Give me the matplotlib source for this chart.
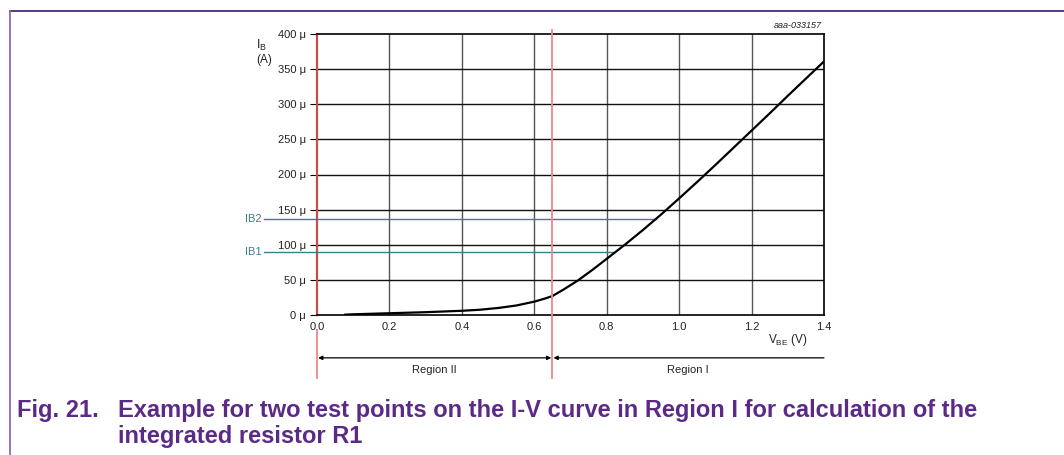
import numpy as np
import matplotlib
matplotlib.use("Agg")
import matplotlib.pyplot as plt
from matplotlib.lines import Line2D

# ---- data ----
vbe = [0.077, 0.10, 0.20, 0.30, 0.40, 0.45, 0.50, 0.55, 0.60, 0.63, 0.65,
       0.68, 0.72, 0.76, 0.80, 0.85, 0.90, 0.95, 1.00, 1.05, 1.10,
       1.15, 1.20, 1.25, 1.30, 1.35, 1.40]
ib_uA = [0.5, 1, 2.5, 4, 6, 7.5, 10, 13.5, 19, 23.5, 27,
         36, 49, 64, 80, 100, 121, 143, 166, 189.5, 213.5,
         238, 262.5, 287, 312, 336.5, 361]
x_ticks = [0.0, 0.2, 0.4, 0.6, 0.8, 1.0, 1.2, 1.4]
x_tick_labels = ["0.0", "0.2", "0.4", "0.6", "0.8", "1.0", "1.2", "1.4"]
y_ticks = [0, 50, 100, 150, 200, 250, 300, 350, 400]
y_tick_labels = [f"{v} μ" for v in y_ticks]
test_levels = [89, 137]
test_names = ["IB1", "IB2"]
region_boundary = 0.65
region_names = ["Region II", "Region I"]

plt.rcParams['font.family'] = ['Liberation Sans', 'DejaVu Sans']

W, H = 1064, 455
fig = plt.figure(figsize=(W / 100, H / 100), dpi=100)
ax = fig.add_axes([317 / W, 1 - 315 / H, (824 - 317) / W, (315 - 34) / H])
ax.set_xlim(0, 1.4)
ax.set_ylim(0, 400)

# grid
for v in x_ticks[1:-1]:
    ax.axvline(v, color='#555555', lw=1.0, zorder=1)
for v in y_ticks[1:-1]:
    ax.axhline(v, color='#111111', lw=1.0, zorder=1)

for s in ['top', 'right', 'bottom']:
    ax.spines[s].set_color('black')
    ax.spines[s].set_linewidth(1.2)
ax.spines['left'].set_color('#c0504d')
ax.spines['left'].set_linewidth(1.6)

ax.set_xticks(x_ticks)
ax.set_xticklabels(x_tick_labels)
ax.set_yticks(y_ticks)
ax.set_yticklabels(y_tick_labels)
ax.tick_params(axis='x', length=0, pad=5, labelsize=8, colors='#222222')
ax.tick_params(axis='y', length=5, width=0.8, pad=3, labelsize=8, colors='#222222')
ax.tick_params(axis='y', color='black')

# curve
ax.plot(vbe, ib_uA, color='black', lw=1.6, zorder=4, solid_capstyle='round',
        solid_joinstyle='round')

# test point lines
teal = '#3b7f8f'
for lvl, name in zip(test_levels, test_names):
    xend = np.interp(lvl, ib_uA, vbe)
    ax.plot([-0.145, xend], [lvl, lvl], color=teal, lw=1.0, clip_on=False, zorder=3)
    ax.text(-0.152, lvl, name, color=teal, fontsize=8, ha='right', va='center')

# region boundary lines
ax.plot([region_boundary, region_boundary], [405.5, -90], color='#f08880', lw=1.3,
        clip_on=False, zorder=5)
ax.plot([0, 0], [-21, -90], color='#f08880', lw=1.3, clip_on=False, zorder=5)

# region arrows
ya = -61
ax.annotate('', xy=(0.003, ya), xytext=(region_boundary - 0.003, ya),
            arrowprops=dict(arrowstyle='<|-|>', color='black', lw=0.9,
                            mutation_scale=6, shrinkA=0, shrinkB=0),
            annotation_clip=False)
ax.annotate('', xy=(region_boundary + 0.003, ya), xytext=(1.4, ya),
            arrowprops=dict(arrowstyle='-|>', color='black', lw=0.9,
                            mutation_scale=6, shrinkA=0, shrinkB=0),
            annotation_clip=False)
ax.text(region_boundary / 2, -78, region_names[0], fontsize=8, ha='center',
        va='center', color='#222222')
ax.text((region_boundary + 1.4) / 2, -78, region_names[1], fontsize=8, ha='center',
        va='center', color='#222222')

# axis labels
ax.text(1.30, -36, r'V$_{\mathregular{BE}}$ (V)', fontsize=8.5, ha='center',
        va='center', color='#222222')
ax.text(-0.152, 383, r'I$_{\mathregular{B}}$', fontsize=9, ha='center',
        va='center', color='#222222')
ax.text(-0.145, 363, '(A)', fontsize=8.5, ha='center', va='center', color='#222222')
ax.text(1.395, 412, 'aaa-033157', fontsize=6.5, style='italic', ha='right',
        va='center', color='#222222')

# frame lines
fig.add_artist(Line2D([10 / W, 1.0], [1 - 11 / H, 1 - 11 / H], color='#4b2a7b',
                      lw=1.3, transform=fig.transFigure))
fig.add_artist(Line2D([10 / W, 10 / W], [1 - 11 / H, 0], color='#8a6bb5',
                      lw=1.3, transform=fig.transFigure))

# caption
purple = '#5b2a86'
fig.text(17 / W, 1 - 410 / H, 'Fig. 21.', fontsize=17, fontweight='bold',
         color=purple, va='center', ha='left')
fig.text(118 / W, 1 - 410 / H,
         'Example for two test points on the I-V curve in Region I for calculation of the',
         fontsize=17, fontweight='bold', color=purple, va='center', ha='left')
fig.text(118 / W, 1 - 437 / H, 'integrated resistor R1', fontsize=17,
         fontweight='bold', color=purple, va='center', ha='left')

fig.savefig('out.png', dpi=100)
